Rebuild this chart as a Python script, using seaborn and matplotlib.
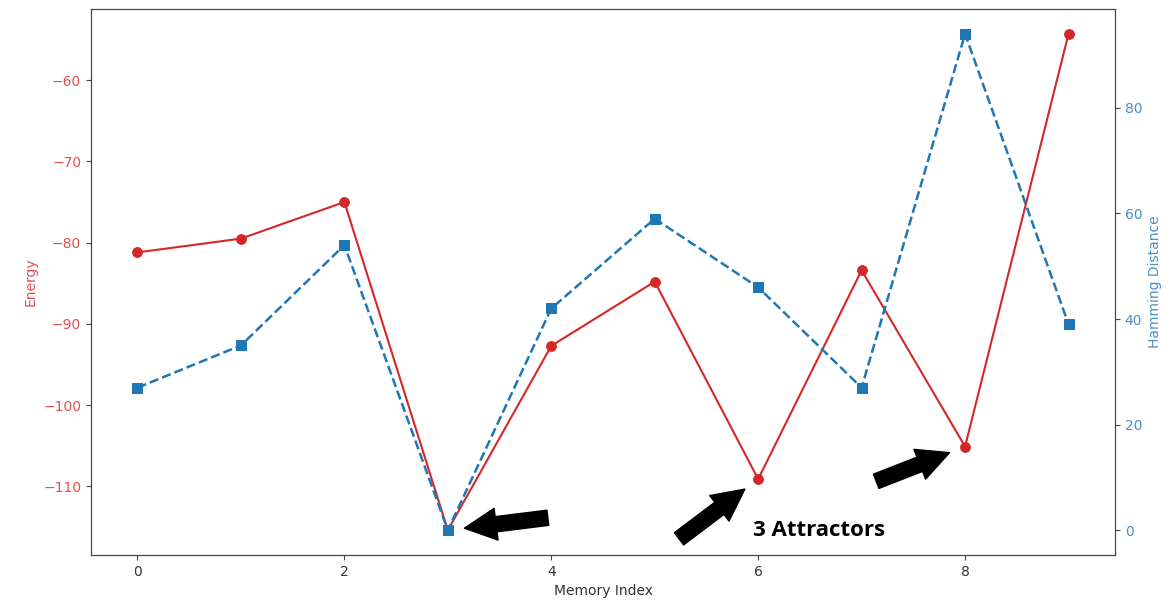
import numpy as np
import pandas as pd
import matplotlib
matplotlib.use('Agg')
import matplotlib.pyplot as plt
import seaborn as sns

# values
memory_index = list(range(10))
energy = [-81.2, -79.5, -75.0, -115.4, -92.7, -84.8, -109.1, -83.4, -105.1, -54.3]
hamming = [27, 35, 54, 0, 42, 59, 46, 27, 94, 39]

df = pd.DataFrame({'idx': memory_index, 'energy': energy, 'hamming': hamming})

red = '#d62728'
blue = '#1f77b4'

fig = plt.figure(figsize=(11.75, 6.04), dpi=100)
ax1 = fig.add_axes([0.0774, 0.081, 0.8716, 0.904])
ax2 = ax1.twinx()

sns.lineplot(data=df, x='idx', y='energy', ax=ax1, color=red, marker='o',
             markersize=7, markeredgecolor=red, linewidth=1.5)
sns.lineplot(data=df, x='idx', y='hamming', ax=ax2, color=blue, marker='s',
             markersize=7, markeredgecolor=blue, linestyle='--', linewidth=1.8)

ax1.set_xlabel('Memory Index', color='#333333')
ax1.set_ylabel('Energy', color='#e05050')
ax2.set_ylabel('Hamming Distance', color='#4a90c8')
ax1.tick_params(axis='y', colors='#444444', labelcolor='#e05050')
ax2.tick_params(axis='y', colors='#444444', labelcolor='#4a90c8')
ax1.tick_params(axis='x', colors='#444444', labelcolor='#333333')
for ax in (ax1, ax2):
    for s in ax.spines.values():
        s.set_color('#444444')
ax1.set_xticks([0, 2, 4, 6, 8])

# black arrows pointing at the three attractor states
arrow = dict(arrowstyle='simple,head_length=23,head_width=23,tail_width=11',
             mutation_scale=1, color='black', shrinkA=0, shrinkB=12)
ax2.annotate('', xy=(3, hamming[3]), xytext=(72, 9), textcoords='offset points',
             arrowprops=arrow)
ax1.annotate('', xy=(6, energy[6]), xytext=(-57, -43), textcoords='offset points',
             arrowprops=arrow)
ax1.annotate('', xy=(8, energy[8]), xytext=(-64, -25), textcoords='offset points',
             arrowprops=arrow)

ax1.text(5.95, energy[3], '3 Attractors', fontsize=16, fontweight='bold',
         family=['Open Sans', 'DejaVu Sans'], va='center', ha='left', color='black')

fig.savefig('out.png', dpi=100)
